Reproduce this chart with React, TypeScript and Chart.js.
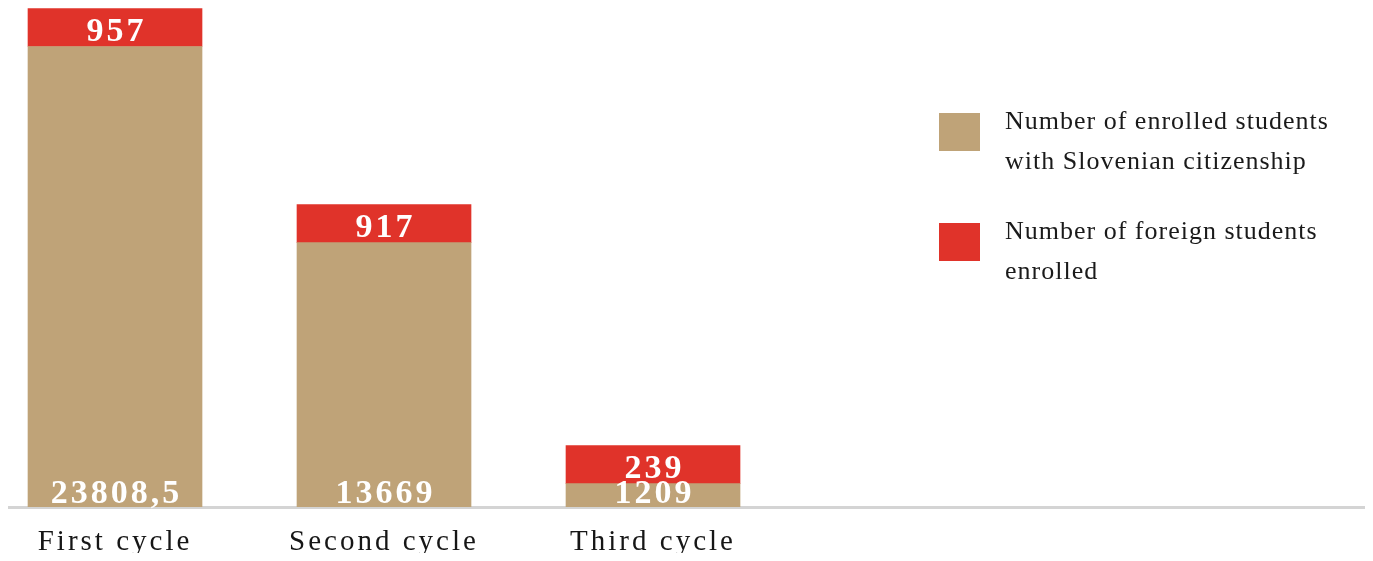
import React, { useEffect, useRef } from "react";
import { Chart, registerables } from "chart.js";

Chart.register(...registerables);

// ---- data ----
const categories = ["First cycle", "Second cycle", "Third cycle"];
const slovenianStudents = [23808.5, 13669, 1209];
const foreignStudents = [957, 917, 239];
const seriesLabels = [
  "Number of enrolled students with Slovenian citizenship",
  "Number of foreign students enrolled",
];
const seriesColors = ["#BFA378", "#E0332A"];

// ---- axis ranges ----
const xAxisMin = -0.3978;
const xAxisMax = 4.6468;
const yAxisMax = 25800;

const FONT = "'Liberation Serif', 'Times New Roman', serif";

const tickSpacing = {
  id: "tickSpacing",
  beforeDraw(chart: any) {
    chart.ctx.letterSpacing = "3px";
  },
  beforeDatasetsDraw(chart: any) {
    chart.ctx.letterSpacing = "0px";
  },
};

const valueLabels = {
  id: "valueLabels",
  afterDatasetsDraw(chart: any) {
    const ctx = chart.ctx;
    ctx.save();
    ctx.letterSpacing = "3px";
    ctx.font = `bold 34px ${FONT}`;
    ctx.fillStyle = "#ffffff";
    ctx.textAlign = "center";
    ctx.textBaseline = "alphabetic";
    chart.data.datasets.forEach((ds: any, di: number) => {
      const meta = chart.getDatasetMeta(di);
      meta.data.forEach((el: any, i: number) => {
        const v = ds.data[i].y;
        const { x, y, base } = el.getProps(["x", "y", "base"], true);
        const bottom = Math.max(y, base);
        ctx.fillText(String(v).replace(".", ","), x + 1.5, bottom - (di === 0 ? 4 : 6));
      });
    });
    ctx.restore();
  },
};

export default function App() {
  const canvasRef = useRef<HTMLCanvasElement>(null);

  useEffect(() => {
    if (!canvasRef.current) return;
    const chart = new Chart(canvasRef.current, {
      type: "bar",
      data: {
        datasets: [
          {
            label: seriesLabels[0],
            data: categories.map((_, i) => ({ x: i, y: slovenianStudents[i] })),
            backgroundColor: seriesColors[0],
            barThickness: 174,
            stack: "s",
          },
          {
            label: seriesLabels[1],
            data: categories.map((_, i) => ({ x: i, y: foreignStudents[i] })),
            backgroundColor: seriesColors[1],
            barThickness: 174,
            minBarLength: 38,
            stack: "s",
          },
        ],
      } as any,
      options: {
        animation: false,
        responsive: false,
        layout: { padding: { top: 8 } },
        plugins: {
          legend: { display: false },
          tooltip: { enabled: false },
        },
        scales: {
          x: {
            type: "linear",
            min: xAxisMin,
            max: xAxisMax,
            offset: false,
            stacked: true,
            grid: { display: false, drawTicks: true, tickLength: 16 },
            border: { display: true, color: "#D4D4D4", width: 3 },
            ticks: {
              stepSize: 1,
              includeBounds: false,
              autoSkip: false,
              maxRotation: 0,
              padding: 9,
              color: "#161616",
              font: { family: FONT, size: 29, lineHeight: "20px" },
              callback: (v: any) =>
                Number.isInteger(v) && categories[v] !== undefined ? categories[v] : "",
            },
          },
          y: {
            display: false,
            stacked: true,
            min: 0,
            max: yAxisMax,
          },
        },
      } as any,
      plugins: [tickSpacing, valueLabels],
    });
    return () => chart.destroy();
  }, []);

  return (
    <div
      style={{
        position: "relative",
        width: 1357,
        height: 561,
        marginTop: -8,
        marginBottom: -8,
      }}
    >
      <canvas ref={canvasRef} width={1357} height={561} style={{ display: "block" }} />
      <div
        style={{
          position: "absolute",
          left: 931,
          top: 101,
          fontFamily: FONT,
          fontSize: 26,
          lineHeight: "40px",
          letterSpacing: "1px",
          color: "#1a1a1a",
        }}
      >
        {seriesLabels.map((lbl, i) => (
          <div key={lbl} style={{ display: "flex", alignItems: "flex-start", marginBottom: 30 }}>
            <div
              style={{
                width: 41,
                height: 38,
                marginTop: 12,
                background: seriesColors[i],
                flex: "0 0 auto",
              }}
            />
            <div style={{ marginLeft: 25, width: 345 }}>{lbl}</div>
          </div>
        ))}
      </div>
    </div>
  );
}
